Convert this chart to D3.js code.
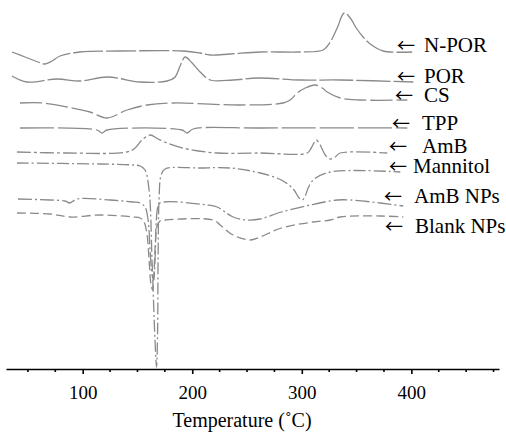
<!DOCTYPE html>
<html>
<head>
<meta charset="utf-8">
<script src="https://cdn.jsdelivr.net/npm/d3@7"></script>
<style>
body { margin: 0; background: #fff; }
svg { display: block; }
.curve { fill: none; stroke: #8a8a8a; stroke-width: 1.3; stroke-linejoin: round; }
.axis path, .axis line { stroke: #000; stroke-width: 1.6; }
.axis text, .title, .label { font-family: "Liberation Serif", "DejaVu Serif", serif; fill: #000; }
.arrow { font-family: "Noto Sans CJK JP", "DejaVu Sans", sans-serif; }
</style>
</head>
<body>
<svg id="dsc" width="506" height="434"></svg>
<script>
//------------------------------------------------------------------------------
// DSC thermograms: [temperature (C), heat flow (a.u., stacked offset)]

var samples = ['N-POR', 'POR', 'CS', 'TPP', 'AmB', 'Mannitol', 'AmB NPs', 'Blank NPs'];

var nPor = [
	[35.4, 31.7], [47.3, 31.2], [59.2, 30.7], [65.6, 30.5], [72.0, 30.8], [79.3, 31.3],
	[97.6, 31.7], [134.1, 31.8], [191.7, 31.8], [207.2, 31.6], [216.3, 31.4], [234.6, 31.5],
	[262.0, 31.7], [298.5, 31.7], [319.5, 31.9], [325.9, 32.7], [332.3, 34.1], [338.7, 35.6],
	[344.2, 35.1], [349.7, 34.1], [355.2, 33.3], [362.5, 32.5], [374.4, 31.8], [400.8, 31.7]
];
var por = [
	[35.4, 29.3], [49.2, 28.7], [76.6, 29.0], [97.6, 28.8], [122.2, 29.2], [152.4, 28.7],
	[177.0, 28.8], [184.4, 29.2], [188.9, 30.3], [193.5, 31.2], [199.9, 30.6], [207.2, 29.7],
	[216.3, 28.9], [237.3, 28.9], [260.2, 29.1], [298.5, 28.9], [335.1, 28.9], [401.8, 28.7]
];
var cs = [
	[42.8, 26.6], [63.8, 26.6], [85.7, 26.2], [106.7, 25.7], [122.2, 25.1], [140.5, 25.9],
	[158.8, 26.4], [182.5, 26.6], [243.7, 26.4], [283.0, 26.6], [289.4, 26.9], [295.8, 27.6],
	[303.1, 28.1], [312.3, 28.4], [318.7, 28.1], [323.2, 27.7], [335.1, 27.1], [353.3, 26.9],
	[396.3, 26.9]
];
var tpp = [
	[42.8, 24.1], [113.1, 23.9], [117.7, 23.6], [122.2, 23.9], [190.7, 23.9], [195.3, 23.6],
	[200.8, 24.0], [262.0, 24.1], [396.3, 24.1]
];
var amb = [
	[40.0, 21.7], [85.7, 21.6], [140.5, 21.7], [147.8, 22.1], [154.2, 22.9], [161.5, 23.4],
	[168.8, 23.0], [177.0, 22.6], [195.3, 22.0], [222.7, 21.6], [262.0, 21.6], [304.9, 21.6],
	[308.6, 22.1], [313.1, 22.9], [316.8, 22.4], [321.4, 21.4], [325.9, 21.0], [330.5, 21.2],
	[335.1, 21.6], [378.0, 21.6]
];
var mannitol = [
	[40.0, 20.6], [115.8, 20.5], [146.0, 20.4], [152.4, 20.3], [156.9, 19.9], [160.6, 17.9],
	[163.3, 10.9], [166.0, 2.9], [167.4, 0.2], [168.4, 3.9], [168.8, 10.9], [169.7, 16.9],
	[171.6, 19.4], [175.2, 20.0], [207.2, 20.1], [234.6, 20.1], [262.0, 19.6], [281.3, 18.9],
	[292.2, 18.0], [297.6, 17.1], [300.4, 16.9], [303.1, 17.3], [305.8, 18.1], [310.4, 18.9],
	[325.9, 19.7], [389.9, 19.7]
];
var ambNps = [
	[40.9, 17.0], [70.2, 16.9], [83.9, 16.8], [88.4, 16.6], [94.8, 17.0], [125.0, 16.9],
	[146.0, 16.7], [152.4, 16.6], [156.9, 16.2], [159.7, 14.9], [161.5, 11.9], [163.3, 9.4],
	[164.7, 8.9], [166.0, 10.9], [167.0, 14.4], [168.4, 16.1], [170.6, 16.6], [213.6, 16.4],
	[222.7, 16.2], [237.3, 15.2], [250.1, 14.9], [262.0, 15.0], [281.3, 15.7], [307.7, 16.4],
	[332.3, 16.9], [344.2, 16.9], [371.6, 16.6], [392.6, 16.3]
];
var blankNps = [
	[40.0, 15.6], [70.2, 15.5], [88.4, 15.2], [115.8, 15.4], [146.0, 15.2], [152.4, 15.1],
	[156.0, 14.7], [158.8, 13.4], [160.6, 10.9], [162.4, 8.4], [163.8, 7.9], [165.2, 9.9],
	[166.5, 12.9], [167.9, 14.3], [170.6, 14.8], [175.2, 14.9], [219.1, 14.9], [225.5, 14.4],
	[237.3, 13.4], [252.9, 12.9], [262.0, 13.2], [281.3, 14.1], [310.4, 14.7], [325.9, 14.9],
	[335.1, 15.2], [371.6, 15.3], [392.6, 15.2]
];

var majorTicks = [100, 200, 300, 400];
var minorTicks = [50, 75, 125, 150, 175, 225, 250, 275, 325, 350, 375, 425, 450, 475];

//------------------------------------------------------------------------------
// Layout

var svg = d3.select('#dsc');

var x = d3.scaleLinear().domain([30, 480]).range([6, 499]);
var y = d3.scaleLinear().domain([0, 36]).range([369, 9]);

var dashes = ['30,3', '34,3', '22,4', '34,4', '14,3,3,3', '12,3,2,3', '14,3,2,3', '9,4'];

// label placement: arrow left edge, text left edge, baseline
var labelPos = [
	[398, 424, 52], [398, 424, 83], [396, 424, 102], [393, 422, 130],
	[390, 422, 153], [390, 413, 173], [385, 414, 203], [386, 415, 233]
];

var series = [nPor, por, cs, tpp, amb, mannitol, ambNps, blankNps].map(function (d, i) {
	return { name: samples[i], values: d, dash: dashes[i], pos: labelPos[i] };
});

//------------------------------------------------------------------------------
// Curves

var line = d3.line()
	.x(function (d) { return x(d[0]); })
	.y(function (d) { return y(d[1]); })
	.curve(d3.curveCatmullRom.alpha(0.5));

svg.append('g').selectAll('path')
	.data(series)
	.enter().append('path')
	.attr('class', 'curve')
	.attr('stroke-dasharray', function (d) { return d.dash; })
	.attr('d', function (d) { return line(d.values); });

//------------------------------------------------------------------------------
// Axis

var axis = svg.append('g')
	.attr('class', 'axis')
	.attr('transform', 'translate(0,' + y(0) + ')');

axis.call(d3.axisBottom(x)
	.tickValues(majorTicks)
	.tickSizeInner(5)
	.tickSizeOuter(0)
	.tickPadding(12)
	.tickFormat(d3.format('d')));

axis.selectAll('.tick text').attr('font-size', 19);

axis.selectAll('.minor')
	.data(minorTicks)
	.enter().append('line')
	.attr('class', 'minor')
	.attr('x1', x).attr('x2', x)
	.attr('y1', 0).attr('y2', 3);

svg.append('text')
	.attr('class', 'title')
	.attr('x', 242)
	.attr('y', 427)
	.attr('text-anchor', 'middle')
	.attr('font-size', 20)
	.text('Temperature (\u02DAC)');

//------------------------------------------------------------------------------
// Labels: one text per curve, arrow then name

var labels = svg.append('g').selectAll('text')
	.data(series)
	.enter().append('text')
	.attr('class', 'label')
	.attr('y', function (d) { return d.pos[2]; })
	.attr('font-size', 21);

labels.append('tspan')
	.attr('class', 'arrow')
	.attr('x', function (d) { return d.pos[0] - 1; })
	.attr('font-size', 18)
	.text('\u2190');

labels.append('tspan')
	.attr('x', function (d) { return d.pos[1]; })
	.text(function (d) { return d.name; });
</script>
</body>
</html>
